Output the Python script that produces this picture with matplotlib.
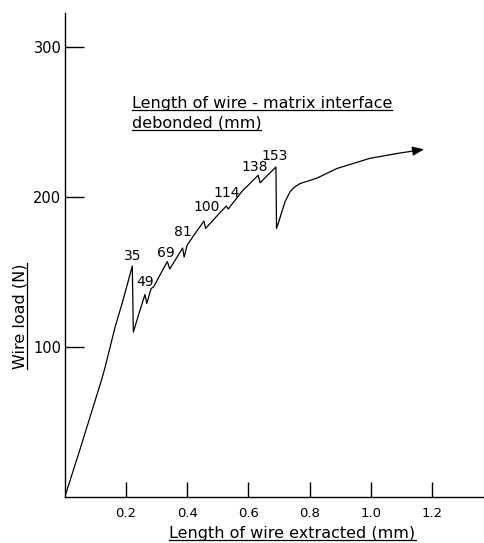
import matplotlib
matplotlib.use("Agg")
import matplotlib.pyplot as plt
from matplotlib.lines import Line2D

# Pull-out curve: wire extracted (mm) vs wire load (N)
extracted_mm = [0.0, 0.05, 0.12, 0.131, 0.164, 0.19, 0.2206, 0.224, 0.245, 0.262,
                0.268, 0.282, 0.29, 0.335, 0.343, 0.385, 0.39, 0.40, 0.42, 0.455,
                0.46, 0.50, 0.528, 0.534, 0.58, 0.632, 0.638, 0.690, 0.692, 0.700,
                0.709, 0.720, 0.736, 0.750, 0.769, 0.823, 0.889, 0.997, 1.085, 1.174]
load_N = [0.0, 32, 78, 86, 113, 131, 154, 110, 124, 135,
          129, 139, 140, 157, 152, 166, 160, 168, 174, 184,
          179, 188, 194, 192, 204, 214.5, 209.5, 220, 179, 184,
          190, 197, 203.5, 206.5, 209, 212.5, 219, 225.8, 229, 231.8]

# Debonded length labels (mm) and where they sit
debond_labels = ["35", "49", "69", "81", "100", "114", "138", "153"]
debond_x = [0.223, 0.263, 0.330, 0.387, 0.464, 0.528, 0.620, 0.687]
debond_y = [161.0, 143.5, 163.0, 177.0, 193.6, 203.0, 220.0, 227.3]

x_ticks = [0.2, 0.4, 0.6, 0.8, 1.0, 1.2]
x_tick_labels = ["0.2", "0.4", "0.6", "0.8", "1.0", "1.2"]
y_ticks = [100, 200, 300]
y_tick_labels = ["100", "200", "300"]

W, H = 484, 543
fig = plt.figure(figsize=(W / 100, H / 100), dpi=100)
plt.rcParams["font.family"] = ["DejaVu Sans"]


def fx(px):
    return px / W


def fy(py):
    return 1 - py / H


ax = fig.add_axes([fx(64.8), fy(497), (W - 64.8) / W, (497 - 13) / H])
ax.set_xlim(0, 1.37)
ax.set_ylim(0, 322.7)
for s in ("top", "right"):
    ax.spines[s].set_visible(False)
for s in ("left", "bottom"):
    ax.spines[s].set_linewidth(1.0)

ax.set_xticks(x_ticks)
ax.set_xticklabels(x_tick_labels, fontsize=9.5)
ax.set_yticks(y_ticks)
ax.set_yticklabels(y_tick_labels, fontsize=10.5)
ax.tick_params(axis="x", direction="in", length=10.8, width=1.0, pad=7.5)
ax.tick_params(axis="y", direction="in", length=13.7, width=1.0, pad=2.5)

# Curve, ending in a filled arrowhead
ax.plot(extracted_mm[:-1], load_N[:-1], color="black", lw=0.9)
ax.annotate("", xy=(extracted_mm[-1], load_N[-1]),
            xytext=(extracted_mm[-2], load_N[-2]),
            arrowprops=dict(arrowstyle="-|>,head_length=0.7,head_width=0.28",
                            color="black", lw=0.9, shrinkA=0, shrinkB=0))

for lab, x, y in zip(debond_labels, debond_x, debond_y):
    ax.text(x, y, lab, fontsize=10, ha="center", va="center")

# Underlined captions
captions = []
captions.append(fig.text(fx(131.7), fy(108.3), "Length of wire - matrix interface",
                         fontsize=11.5, ha="left", va="baseline"))
captions.append(fig.text(fx(131.7), fy(127.7), "debonded (mm)",
                         fontsize=11.5, ha="left", va="baseline"))
captions.append(fig.text(fx(292.5), fy(538.3), "Length of wire extracted (mm)",
                         fontsize=11.5, ha="center", va="baseline"))
ylab = fig.text(fx(25), fy(316), "Wire load (N)", fontsize=11.5, rotation=90,
                rotation_mode="anchor", ha="center", va="baseline")

fig.canvas.draw()
r = fig.canvas.get_renderer()
for t in captions:
    bb = t.get_window_extent(r)
    base_y = t.get_position()[1] * H - 2.0
    fig.add_artist(Line2D([bb.x0 / W, bb.x1 / W], [base_y / H, base_y / H],
                          color="black", lw=0.9))
bb = ylab.get_window_extent(r)
ux = (25 + 2.0) / W
fig.add_artist(Line2D([ux, ux], [bb.y0 / H, bb.y1 / H], color="black", lw=0.9))

fig.savefig("out.png", dpi=100)
